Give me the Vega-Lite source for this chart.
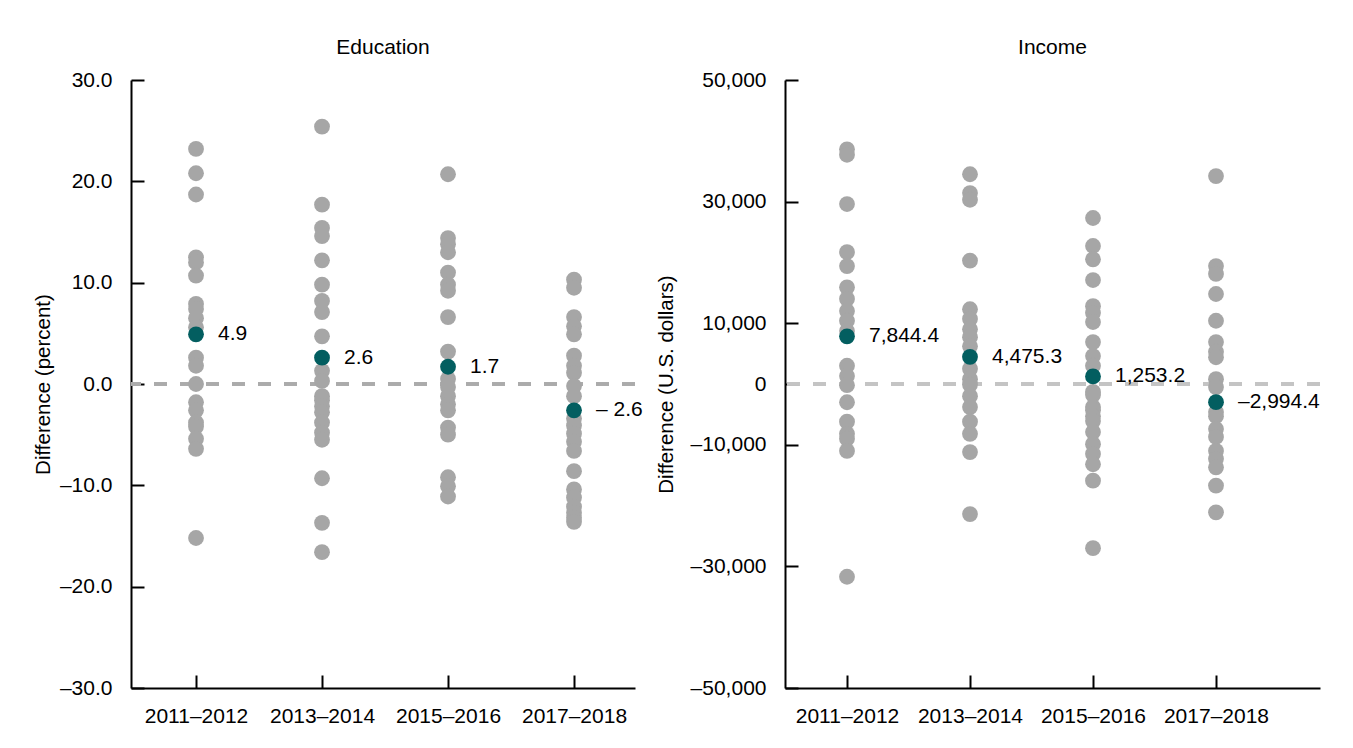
{
  "$schema": "https://vega.github.io/schema/vega-lite/v6.json",
  "background": "white",
  "padding": {"left": 33, "top": 37, "right": 5, "bottom": 5},
  "bounds": "flush",
  "spacing": 150,
  "config": {
    "font": "Liberation Sans",
    "view": {"stroke": null},
    "axis": {
      "grid": false,
      "domainColor": "black",
      "domainWidth": 2,
      "tickColor": "black",
      "tickWidth": 2,
      "tickSize": -13,
      "labelFont": "Liberation Sans",
      "labelFontSize": 21,
      "labelColor": "black",
      "titleFont": "Liberation Sans",
      "titleFontSize": 20.5,
      "titleFontWeight": "normal",
      "titleColor": "black"
    },
    "title": {"font": "Liberation Sans", "fontSize": 21, "fontWeight": "normal", "color": "black", "offset": 11}
  },
  "datasets": {
    "education": [
      {"period": "2011–2012", "value": 23.2, "type": "state"},
      {"period": "2011–2012", "value": 20.8, "type": "state"},
      {"period": "2011–2012", "value": 18.7, "type": "state"},
      {"period": "2011–2012", "value": 12.5, "type": "state"},
      {"period": "2011–2012", "value": 12.0, "type": "state"},
      {"period": "2011–2012", "value": 10.7, "type": "state"},
      {"period": "2011–2012", "value": 7.9, "type": "state"},
      {"period": "2011–2012", "value": 7.4, "type": "state"},
      {"period": "2011–2012", "value": 6.5, "type": "state"},
      {"period": "2011–2012", "value": 5.6, "type": "state"},
      {"period": "2011–2012", "value": 2.6, "type": "state"},
      {"period": "2011–2012", "value": 1.8, "type": "state"},
      {"period": "2011–2012", "value": 0.0, "type": "state"},
      {"period": "2011–2012", "value": -1.8, "type": "state"},
      {"period": "2011–2012", "value": -2.6, "type": "state"},
      {"period": "2011–2012", "value": -3.8, "type": "state"},
      {"period": "2011–2012", "value": -4.2, "type": "state"},
      {"period": "2011–2012", "value": -5.4, "type": "state"},
      {"period": "2011–2012", "value": -6.4, "type": "state"},
      {"period": "2011–2012", "value": -15.2, "type": "state"},
      {"period": "2013–2014", "value": 25.4, "type": "state"},
      {"period": "2013–2014", "value": 17.7, "type": "state"},
      {"period": "2013–2014", "value": 15.4, "type": "state"},
      {"period": "2013–2014", "value": 14.6, "type": "state"},
      {"period": "2013–2014", "value": 12.2, "type": "state"},
      {"period": "2013–2014", "value": 9.8, "type": "state"},
      {"period": "2013–2014", "value": 8.2, "type": "state"},
      {"period": "2013–2014", "value": 7.1, "type": "state"},
      {"period": "2013–2014", "value": 4.7, "type": "state"},
      {"period": "2013–2014", "value": 1.3, "type": "state"},
      {"period": "2013–2014", "value": 0.3, "type": "state"},
      {"period": "2013–2014", "value": -1.2, "type": "state"},
      {"period": "2013–2014", "value": -1.6, "type": "state"},
      {"period": "2013–2014", "value": -2.2, "type": "state"},
      {"period": "2013–2014", "value": -2.8, "type": "state"},
      {"period": "2013–2014", "value": -3.8, "type": "state"},
      {"period": "2013–2014", "value": -4.8, "type": "state"},
      {"period": "2013–2014", "value": -5.5, "type": "state"},
      {"period": "2013–2014", "value": -9.3, "type": "state"},
      {"period": "2013–2014", "value": -13.7, "type": "state"},
      {"period": "2013–2014", "value": -16.6, "type": "state"},
      {"period": "2015–2016", "value": 20.7, "type": "state"},
      {"period": "2015–2016", "value": 14.4, "type": "state"},
      {"period": "2015–2016", "value": 13.8, "type": "state"},
      {"period": "2015–2016", "value": 13.0, "type": "state"},
      {"period": "2015–2016", "value": 11.0, "type": "state"},
      {"period": "2015–2016", "value": 9.8, "type": "state"},
      {"period": "2015–2016", "value": 9.2, "type": "state"},
      {"period": "2015–2016", "value": 6.6, "type": "state"},
      {"period": "2015–2016", "value": 3.2, "type": "state"},
      {"period": "2015–2016", "value": 0.5, "type": "state"},
      {"period": "2015–2016", "value": -0.3, "type": "state"},
      {"period": "2015–2016", "value": -1.2, "type": "state"},
      {"period": "2015–2016", "value": -2.0, "type": "state"},
      {"period": "2015–2016", "value": -2.6, "type": "state"},
      {"period": "2015–2016", "value": -4.3, "type": "state"},
      {"period": "2015–2016", "value": -5.0, "type": "state"},
      {"period": "2015–2016", "value": -9.2, "type": "state"},
      {"period": "2015–2016", "value": -10.1, "type": "state"},
      {"period": "2015–2016", "value": -11.1, "type": "state"},
      {"period": "2017–2018", "value": 10.3, "type": "state"},
      {"period": "2017–2018", "value": 9.5, "type": "state"},
      {"period": "2017–2018", "value": 6.6, "type": "state"},
      {"period": "2017–2018", "value": 5.7, "type": "state"},
      {"period": "2017–2018", "value": 4.9, "type": "state"},
      {"period": "2017–2018", "value": 2.8, "type": "state"},
      {"period": "2017–2018", "value": 1.8, "type": "state"},
      {"period": "2017–2018", "value": 1.1, "type": "state"},
      {"period": "2017–2018", "value": -0.2, "type": "state"},
      {"period": "2017–2018", "value": -1.2, "type": "state"},
      {"period": "2017–2018", "value": -3.4, "type": "state"},
      {"period": "2017–2018", "value": -4.1, "type": "state"},
      {"period": "2017–2018", "value": -4.9, "type": "state"},
      {"period": "2017–2018", "value": -5.7, "type": "state"},
      {"period": "2017–2018", "value": -6.6, "type": "state"},
      {"period": "2017–2018", "value": -8.6, "type": "state"},
      {"period": "2017–2018", "value": -10.4, "type": "state"},
      {"period": "2017–2018", "value": -11.2, "type": "state"},
      {"period": "2017–2018", "value": -12.1, "type": "state"},
      {"period": "2017–2018", "value": -12.7, "type": "state"},
      {"period": "2017–2018", "value": -13.2, "type": "state"},
      {"period": "2017–2018", "value": -13.6, "type": "state"},
      {"period": "2011–2012", "value": 4.9, "type": "mean", "label": "4.9"},
      {"period": "2013–2014", "value": 2.6, "type": "mean", "label": "2.6"},
      {"period": "2015–2016", "value": 1.7, "type": "mean", "label": "1.7"},
      {"period": "2017–2018", "value": -2.6, "type": "mean", "label": "– 2.6"}
    ],
    "income": [
      {"period": "2011–2012", "value": 38600, "type": "state"},
      {"period": "2011–2012", "value": 37700, "type": "state"},
      {"period": "2011–2012", "value": 29600, "type": "state"},
      {"period": "2011–2012", "value": 21700, "type": "state"},
      {"period": "2011–2012", "value": 19400, "type": "state"},
      {"period": "2011–2012", "value": 15900, "type": "state"},
      {"period": "2011–2012", "value": 14000, "type": "state"},
      {"period": "2011–2012", "value": 12000, "type": "state"},
      {"period": "2011–2012", "value": 10400, "type": "state"},
      {"period": "2011–2012", "value": 8700, "type": "state"},
      {"period": "2011–2012", "value": 3000, "type": "state"},
      {"period": "2011–2012", "value": 1300, "type": "state"},
      {"period": "2011–2012", "value": -200, "type": "state"},
      {"period": "2011–2012", "value": -3000, "type": "state"},
      {"period": "2011–2012", "value": -6200, "type": "state"},
      {"period": "2011–2012", "value": -8200, "type": "state"},
      {"period": "2011–2012", "value": -9000, "type": "state"},
      {"period": "2011–2012", "value": -11000, "type": "state"},
      {"period": "2011–2012", "value": -31700, "type": "state"},
      {"period": "2013–2014", "value": 34500, "type": "state"},
      {"period": "2013–2014", "value": 31400, "type": "state"},
      {"period": "2013–2014", "value": 30300, "type": "state"},
      {"period": "2013–2014", "value": 20300, "type": "state"},
      {"period": "2013–2014", "value": 12300, "type": "state"},
      {"period": "2013–2014", "value": 10700, "type": "state"},
      {"period": "2013–2014", "value": 9000, "type": "state"},
      {"period": "2013–2014", "value": 7700, "type": "state"},
      {"period": "2013–2014", "value": 6200, "type": "state"},
      {"period": "2013–2014", "value": 2500, "type": "state"},
      {"period": "2013–2014", "value": 800, "type": "state"},
      {"period": "2013–2014", "value": -100, "type": "state"},
      {"period": "2013–2014", "value": -2000, "type": "state"},
      {"period": "2013–2014", "value": -3800, "type": "state"},
      {"period": "2013–2014", "value": -6200, "type": "state"},
      {"period": "2013–2014", "value": -8200, "type": "state"},
      {"period": "2013–2014", "value": -11200, "type": "state"},
      {"period": "2013–2014", "value": -21400, "type": "state"},
      {"period": "2015–2016", "value": 27300, "type": "state"},
      {"period": "2015–2016", "value": 22700, "type": "state"},
      {"period": "2015–2016", "value": 20500, "type": "state"},
      {"period": "2015–2016", "value": 17100, "type": "state"},
      {"period": "2015–2016", "value": 12800, "type": "state"},
      {"period": "2015–2016", "value": 11700, "type": "state"},
      {"period": "2015–2016", "value": 10200, "type": "state"},
      {"period": "2015–2016", "value": 6900, "type": "state"},
      {"period": "2015–2016", "value": 4600, "type": "state"},
      {"period": "2015–2016", "value": 3000, "type": "state"},
      {"period": "2015–2016", "value": -1300, "type": "state"},
      {"period": "2015–2016", "value": -1800, "type": "state"},
      {"period": "2015–2016", "value": -3800, "type": "state"},
      {"period": "2015–2016", "value": -4300, "type": "state"},
      {"period": "2015–2016", "value": -5300, "type": "state"},
      {"period": "2015–2016", "value": -6100, "type": "state"},
      {"period": "2015–2016", "value": -7900, "type": "state"},
      {"period": "2015–2016", "value": -9900, "type": "state"},
      {"period": "2015–2016", "value": -11500, "type": "state"},
      {"period": "2015–2016", "value": -13200, "type": "state"},
      {"period": "2015–2016", "value": -15900, "type": "state"},
      {"period": "2015–2016", "value": -27000, "type": "state"},
      {"period": "2017–2018", "value": 34200, "type": "state"},
      {"period": "2017–2018", "value": 19400, "type": "state"},
      {"period": "2017–2018", "value": 18100, "type": "state"},
      {"period": "2017–2018", "value": 14800, "type": "state"},
      {"period": "2017–2018", "value": 10400, "type": "state"},
      {"period": "2017–2018", "value": 6900, "type": "state"},
      {"period": "2017–2018", "value": 5300, "type": "state"},
      {"period": "2017–2018", "value": 4400, "type": "state"},
      {"period": "2017–2018", "value": 800, "type": "state"},
      {"period": "2017–2018", "value": -500, "type": "state"},
      {"period": "2017–2018", "value": -4600, "type": "state"},
      {"period": "2017–2018", "value": -5300, "type": "state"},
      {"period": "2017–2018", "value": -7400, "type": "state"},
      {"period": "2017–2018", "value": -8700, "type": "state"},
      {"period": "2017–2018", "value": -11000, "type": "state"},
      {"period": "2017–2018", "value": -12300, "type": "state"},
      {"period": "2017–2018", "value": -13700, "type": "state"},
      {"period": "2017–2018", "value": -16700, "type": "state"},
      {"period": "2017–2018", "value": -21100, "type": "state"},
      {"period": "2011–2012", "value": 7844.4, "type": "mean", "label": "7,844.4"},
      {"period": "2013–2014", "value": 4475.3, "type": "mean", "label": "4,475.3"},
      {"period": "2015–2016", "value": 1253.2, "type": "mean", "label": "1,253.2"},
      {"period": "2017–2018", "value": -2994.4, "type": "mean", "label": "–2,994.4"}
    ]
  },
  "hconcat": [
    {
      "width": 504,
      "height": 608,
      "title": {"text": "Education"},
      "data": {"name": "education"},
      "encoding": {
        "x": {
          "field": "period",
          "type": "nominal",
          "scale": {"type": "point", "padding": 0.5, "align": 0.516, "domain": ["2011–2012", "2013–2014", "2015–2016", "2017–2018"]},
          "axis": {"title": null, "labelAngle": 0, "labelPadding": 30},
          "sort": null
        },
        "y": {
          "field": "value",
          "type": "quantitative",
          "scale": {"domain": [-30, 30], "nice": false, "zero": false},
          "axis": {
            "title": "Difference (percent)",
            "values": [-30, -20, -10, 0, 10, 20, 30],
            "labelExpr": "datum.value < 0 ? '–' + format(-datum.value, '.1f') : format(datum.value, '.1f')",
            "labelPadding": 32,
            "titlePadding": 6
          }
        }
      },
      "layer": [
        {
          "mark": {"type": "rule", "strokeDash": [13, 13], "color": "#ABABAB", "strokeWidth": 2.5},
          "encoding": {"y": {"datum": 0}, "x": null}
        },
        {
          "transform": [{"filter": "datum.type == 'state'"}],
          "mark": {"type": "circle", "size": 250, "opacity": 1, "color": "#A6A6A6"}
        },
        {
          "transform": [{"filter": "datum.type == 'mean'"}],
          "mark": {"type": "circle", "size": 250, "opacity": 1, "color": "#035E60"}
        },
        {
          "transform": [{"filter": "datum.type == 'mean'"}],
          "mark": {"type": "text", "align": "left", "baseline": "middle", "dx": 22, "fontSize": 21, "color": "black", "font": "Liberation Sans"},
          "encoding": {"text": {"field": "label"}}
        }
      ]
    },
    {
      "width": 535,
      "height": 608,
      "title": {"text": "Income"},
      "data": {"name": "income"},
      "encoding": {
        "x": {
          "field": "period",
          "type": "nominal",
          "scale": {"type": "point", "padding": 0.6748, "align": 0.3735, "domain": ["2011–2012", "2013–2014", "2015–2016", "2017–2018"]},
          "axis": {"title": null, "labelAngle": 0, "labelPadding": 30},
          "sort": null
        },
        "y": {
          "field": "value",
          "type": "quantitative",
          "scale": {"domain": [-50000, 50000], "nice": false, "zero": false},
          "axis": {
            "title": "Difference (U.S. dollars)",
            "values": [-50000, -30000, -10000, 0, 10000, 30000, 50000],
            "labelExpr": "datum.value < 0 ? '–' + format(-datum.value, ',') : format(datum.value, ',')",
            "labelPadding": 32,
            "titlePadding": 14
          }
        }
      },
      "layer": [
        {
          "mark": {"type": "rule", "strokeDash": [13, 13], "color": "#C4C4C4", "strokeWidth": 2.5},
          "encoding": {"y": {"datum": 0}, "x": null}
        },
        {
          "transform": [{"filter": "datum.type == 'state'"}],
          "mark": {"type": "circle", "size": 250, "opacity": 1, "color": "#A6A6A6"}
        },
        {
          "transform": [{"filter": "datum.type == 'mean'"}],
          "mark": {"type": "circle", "size": 250, "opacity": 1, "color": "#035E60"}
        },
        {
          "transform": [{"filter": "datum.type == 'mean'"}],
          "mark": {"type": "text", "align": "left", "baseline": "middle", "dx": 22, "fontSize": 21, "color": "black", "font": "Liberation Sans"},
          "encoding": {"text": {"field": "label"}}
        }
      ]
    }
  ]
}
